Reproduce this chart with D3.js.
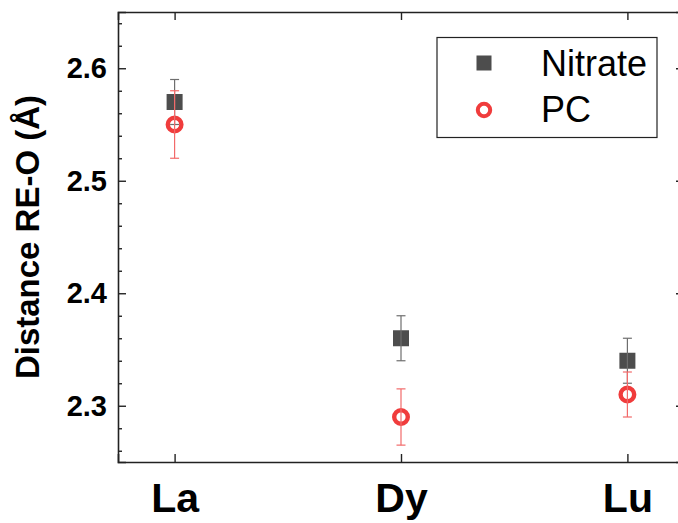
<!DOCTYPE html>
<html>
<head>
<meta charset="utf-8">
<script src="https://cdn.jsdelivr.net/npm/d3@7"></script>
<style>
  body { margin: 0; background: #fff; }
  svg { display: block; font-family: "Liberation Sans", Arial, sans-serif; }
</style>
</head>
<body>
<div id="chart"></div>
<script>
// data
const categories = ["La", "Dy", "Lu"];
const nitrate = [2.57, 2.36, 2.34];
const nitrateErr = [0.02, 0.02, 0.02];
const pc = [2.55, 2.29, 2.31];
const pcErr = [0.03, 0.025, 0.02];
const yTicks = [2.3, 2.4, 2.5, 2.6];

const width = 678, height = 523;
const margin = { top: 12, right: -6, bottom: 61, left: 118 };
const w = width - margin.left - margin.right;
const h = height - margin.top - margin.bottom;

const svg = d3.select("#chart").append("svg")
  .attr("width", width)
  .attr("height", height);

const g = svg.append("g")
  .attr("transform", `translate(${margin.left},${margin.top})`);

const x = d3.scaleLinear().domain([0.75, 3.25]).range([0, w]);
const y = d3.scaleLinear().domain([2.25, 2.65]).range([h, 0]);

const minorTicks = d3.range(2.26, 2.65, 0.02).filter(v => !yTicks.some(t => Math.abs(t - v) < 1e-6));

function styleAxis(sel) {
  sel.select(".domain").attr("stroke", "#222").attr("stroke-width", 1.6);
  sel.selectAll(".tick line").attr("stroke", "#222").attr("stroke-width", 1.4);
}

// left axis with labels
g.append("g")
  .call(d3.axisLeft(y).tickValues(yTicks).tickSize(-8).tickPadding(11).tickFormat(d3.format(".1f")))
  .call(styleAxis)
  .call(a => a.selectAll("text")
    .attr("font-size", 29).attr("font-weight", "bold").attr("fill", "#000")
    .attr("font-family", "Liberation Sans, Arial, sans-serif"));

g.append("g")
  .call(d3.axisLeft(y).tickValues(minorTicks).tickSize(-4).tickFormat(""))
  .call(styleAxis)
  .call(a => a.select(".domain").remove());

// right axis (mostly outside the picture)
g.append("g")
  .attr("transform", `translate(${w},0)`)
  .call(d3.axisRight(y).tickValues(yTicks).tickSize(-8).tickFormat(""))
  .call(styleAxis);

// bottom axis
g.append("g")
  .attr("transform", `translate(0,${h})`)
  .call(d3.axisBottom(x).tickValues([1, 2, 3]).tickSize(-8).tickPadding(21)
    .tickFormat((d, i) => categories[i]))
  .call(styleAxis)
  .call(a => a.selectAll("text")
    .attr("font-size", 41).attr("font-weight", "bold").attr("fill", "#000")
    .attr("font-family", "Liberation Sans, Arial, sans-serif"));

// top axis
g.append("g")
  .call(d3.axisTop(x).tickValues([1, 2, 3]).tickSize(-8).tickFormat(""))
  .call(styleAxis);

// y axis title
svg.append("text")
  .attr("transform", `translate(39,${margin.top + h / 2}) rotate(-90)`)
  .attr("text-anchor", "middle")
  .attr("font-size", 33)
  .attr("font-weight", "bold")
  .text("Distance RE-O (Å)");

// markers
const sq = 16;
g.selectAll(".sq")
  .data(nitrate)
  .enter().append("rect")
  .attr("class", "sq")
  .attr("x", (d, i) => x(i + 1) - sq / 2)
  .attr("y", d => y(d) - sq / 2)
  .attr("width", sq)
  .attr("height", sq)
  .attr("fill", "#4d4d4d");

g.selectAll(".circ")
  .data(pc)
  .enter().append("circle")
  .attr("class", "circ")
  .attr("cx", (d, i) => x(i + 1))
  .attr("cy", d => y(d))
  .attr("r", 6.8)
  .attr("fill", "#fff")
  .attr("stroke", "#f03c3c")
  .attr("stroke-width", 4.4);

// error bars on top of the markers
function errorBars(values, errs, color) {
  const eb = g.append("g").attr("stroke", color).attr("stroke-width", 1.2);
  values.forEach((v, i) => {
    const cx = x(i + 1);
    eb.append("line").attr("x1", cx).attr("x2", cx)
      .attr("y1", y(v + errs[i])).attr("y2", y(v - errs[i]));
    [v + errs[i], v - errs[i]].forEach(e => {
      eb.append("line").attr("x1", cx - 4.5).attr("x2", cx + 4.5)
        .attr("y1", y(e)).attr("y2", y(e));
    });
  });
}
errorBars(nitrate, nitrateErr, "#6e6e6e");
errorBars(pc, pcErr, "#f26a6a");

// legend
const lg = svg.append("g");
lg.append("rect")
  .attr("x", 437).attr("y", 37.5).attr("width", 220).attr("height", 100)
  .attr("fill", "#fff").attr("stroke", "#222").attr("stroke-width", 1.2);
lg.append("rect")
  .attr("x", 484 - 7.5).attr("y", 63 - 7.5).attr("width", 15).attr("height", 15)
  .attr("fill", "#4d4d4d");
lg.append("circle")
  .attr("cx", 484).attr("cy", 110).attr("r", 6.2)
  .attr("fill", "#fff").attr("stroke", "#f03c3c").attr("stroke-width", 4);
lg.append("text").attr("x", 541).attr("y", 76).attr("font-size", 36).text("Nitrate");
lg.append("text").attr("x", 541).attr("y", 122).attr("font-size", 36).text("PC");
</script>
</body>
</html>
